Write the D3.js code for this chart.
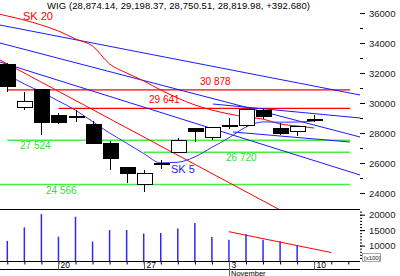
<!DOCTYPE html>
<meta charset="utf-8">
<html>
<head>
<script src="https://d3js.org/d3.v7.min.js"></script>
<style>
  body { margin: 0; background: #fff; }
  text { font-family: "Liberation Sans", Arial, sans-serif; }
</style>
</head>
<body>
<div id="chart"></div>
<script>
// ---- data ----
var days = ["15","16","17","20","21","22","23","24","27","28","29","30","31","3","4","5","6","7","10","11","12"];
var weekStarts = [3, 8, 13, 18];   // indexes of 20, 27, 3, 10
var monthLabel = {index: 13, text: "November"};

var opens  = [32600, 29667, 30867, 29200, 29050, 28600, 27267, 25667, 24600, 26000, 26733, 28267, 27667, 28450, 28533, 29467, 28267, 28133, 28874.14];
var highs  = [32650, 30733, 30933, 29333, 29533, 28800, 27467, 25700, 25533, 26200, 27667, 28267, 28400, 29000, 29600, 29600, 28667, 28427, 29198.37];
var lows   = [30733, 29533, 27867, 28600, 28733, 27267, 25533, 24667, 24067, 25600, 26733, 27400, 27533, 28267, 28400, 28933, 27867, 27800, 28750.51];
var closes = [31067, 30067, 28667, 28733, 29080, 27267, 26267, 25267, 25267, 26000, 27467, 28067, 28400, 28480, 29600, 29133, 28000, 28427, 28819.98];

var volumes = [11500, 15900, 20200, 12900, 19350, 11300, 15000, 15050, 13900, 14100, 15500, 17300, 12800, 11850, 13700, 11850, 11400, 10100];

// moving averages, index -1 .. 18
var sk20 = [36070, 35800, 35530, 35200, 34800, 34270, 33800, 32600, 32000, 31470, 30870, 30330, 29870, 29530, 29270, 29070, 28930, 28600, 28470, 28330];
var sk5  = [32600, 31900, 31267, 30733, 30133, 29520, 28760, 28000, 27320, 26630, 26010, 26050, 26410, 27040, 27680, 28400, 28740, 28720, 28730, 28800];

// support / resistance levels [value, fromIndex, toIndex, label, labelX]
var levels = [
  [30878, 0, 20.1, "30 878", 200, "red"],
  [29641, 3, 20.1, "29 641", 149, "red"],
  [27524, 0, 20.1, "27 524", 20, "green"],
  [26720, 8, 20.1, "26 720", 226, "green"],
  [24566, -0.5, 20.1, "24 566", 46, "green"]
];

// trend lines [i1, v1, i2, v2]
var blueTrends = [
  [-0.43, 35200, 20.69, 30533],
  [-0.43, 34000, 20.69, 27733],
  [-0.43, 32733, 20.69, 25200],
  [12.06, 29933, 20.69, 29000],
  [13.24, 28067, 20.1, 27400]
];
var redTrends = [
  [-0.43, 32867, 16.0, 22867]
];
var volTrend = [13, 14500, 19, 7740];

var title = "WIG (28,874.14, 29,198.37, 28,750.51, 28,819.98, +392.680)";

// ---- layout ----
var W = 400, H = 276;
var plotRight = 360;
var RED = "#ff0000", BLUE = "#1a1aff", GREEN = "#44ee44", GREENTXT = "#33dd33";

var svg = d3.select("#chart").append("svg")
  .attr("width", W).attr("height", H);

var x = d3.scaleLinear().domain([0, 20]).range([7.3, 348.3]);
var y = d3.scaleLinear().domain([24000, 36000]).range([193, 13]);
var yv = d3.scaleLinear().domain([5000, 20000]).range([261, 214.7]);

svg.append("clipPath").attr("id", "clipMain")
  .append("rect").attr("x", 0).attr("y", 0).attr("width", plotRight).attr("height", 209);

var main = svg.append("g").attr("clip-path", "url(#clipMain)");

// horizontal levels
levels.forEach(function(l) {
  main.append("line")
    .attr("x1", x(l[1])).attr("x2", x(l[2]))
    .attr("y1", y(l[0])).attr("y2", y(l[0]))
    .attr("stroke", l[5] == "red" ? RED : GREEN)
    .attr("stroke-width", l[5] == "red" ? 1.2 : 1.5);
});

// trend lines
blueTrends.forEach(function(t) {
  main.append("line")
    .attr("x1", x(t[0])).attr("y1", y(t[1]))
    .attr("x2", x(t[2])).attr("y2", y(t[3]))
    .attr("stroke", BLUE).attr("stroke-width", 1);
});
redTrends.forEach(function(t) {
  main.append("line")
    .attr("x1", x(t[0])).attr("y1", y(t[1]))
    .attr("x2", x(t[2])).attr("y2", y(t[3]))
    .attr("stroke", RED).attr("stroke-width", 1);
});

// moving averages
var maLine = d3.line()
  .x(function(d, i) { return x(i - 1); })
  .y(function(d) { return y(d); })
  .curve(d3.curveMonotoneX);

main.append("path").datum(sk20)
  .attr("d", maLine).attr("fill", "none")
  .attr("stroke", RED).attr("stroke-width", 1);
main.append("path").datum(sk5)
  .attr("d", maLine).attr("fill", "none")
  .attr("stroke", "#3030ff").attr("stroke-width", 1);

// candles
var candles = main.selectAll("g.candle")
  .data(closes.map(function(c, i) { return {i: i, o: opens[i], h: highs[i], l: lows[i], c: c}; }))
  .enter().append("g").attr("class", "candle")
  .attr("shape-rendering", "crispEdges");

candles.append("line")
  .attr("x1", function(d) { return Math.round(x(d.i)) + 0.5; })
  .attr("x2", function(d) { return Math.round(x(d.i)) + 0.5; })
  .attr("y1", function(d) { return y(d.h); })
  .attr("y2", function(d) { return y(d.l); })
  .attr("stroke", "#000");

candles.append("rect")
  .attr("x", function(d) { return Math.round(x(d.i)) - 7 + 0.5; })
  .attr("width", 15)
  .attr("y", function(d) { return y(Math.max(d.o, d.c)); })
  .attr("height", function(d) { return Math.max(1, y(Math.min(d.o, d.c)) - y(Math.max(d.o, d.c))); })
  .attr("fill", function(d) { return d.c < d.o ? "#000" : "#fff"; })
  .attr("stroke", "#000");

// level labels
levels.forEach(function(l) {
  svg.append("text")
    .attr("x", l[4]).attr("y", y(l[0]) + (l[5] == "red" ? -5 : 9))
    .attr("font-size", 10)
    .attr("fill", l[5] == "red" ? RED : GREENTXT)
    .text(l[3]);
});

svg.append("text").attr("x", 23).attr("y", 20)
  .attr("font-size", 11).attr("fill", RED).text("SK 20");
svg.append("text").attr("x", 171).attr("y", 173)
  .attr("font-size", 11).attr("fill", "#2222ee").text("SK 5");

// title
svg.append("text").attr("x", 47).attr("y", 9)
  .attr("font-size", 9.5).attr("fill", "#000")
  .attr("textLength", 263).attr("lengthAdjust", "spacing")
  .text(title);

// panel separators
svg.append("line").attr("x1", 0).attr("x2", plotRight).attr("y1", 209.5).attr("y2", 209.5)
  .attr("stroke", "#000");

// right axis (main)
var majorTicks = d3.range(24000, 36001, 2000);
var minorTicks = d3.range(25000, 36000, 2000);
svg.append("g").attr("transform", "translate(" + plotRight + ",0)")
  .call(d3.axisRight(y).tickValues(minorTicks).tickSize(3).tickFormat(""))
  .call(function(g) { g.select(".domain").remove(); });
svg.append("g").attr("transform", "translate(" + plotRight + ",0)")
  .call(d3.axisRight(y).tickValues(majorTicks).tickSize(5).tickPadding(4)
        .tickFormat(d3.format("d")))
  .call(function(g) { g.select(".domain").remove(); })
  .call(function(g) { g.selectAll("text").attr("font-size", 9.5).attr("fill", "#222")
                       .attr("font-family", "'Liberation Sans', Arial, sans-serif"); });

// volume panel
var vol = svg.append("g");
vol.selectAll("line.vol").data(volumes).enter().append("line")
  .attr("class", "vol")
  .attr("x1", function(d, i) { return x(i); })
  .attr("x2", function(d, i) { return x(i); })
  .attr("y1", yv(5000)).attr("y2", function(d) { return yv(d); })
  .attr("stroke", "#2a2aff").attr("stroke-width", 1.5);

vol.append("line")
  .attr("x1", x(volTrend[0])).attr("y1", yv(volTrend[1]))
  .attr("x2", x(volTrend[2])).attr("y2", yv(volTrend[3]))
  .attr("stroke", RED).attr("stroke-width", 1);

svg.append("g").attr("transform", "translate(" + plotRight + ",0)")
  .call(d3.axisRight(yv).tickValues(d3.range(6000, 21001, 1000)).tickSize(2).tickFormat(""))
  .call(function(g) { g.select(".domain").remove(); });
svg.append("g").attr("transform", "translate(" + plotRight + ",0)")
  .call(d3.axisRight(yv).tickValues([10000, 15000, 20000]).tickSize(5).tickPadding(4)
        .tickFormat(d3.format("d")))
  .call(function(g) { g.select(".domain").remove(); })
  .call(function(g) { g.selectAll("text").attr("font-size", 9.5).attr("fill", "#222")
                       .attr("font-family", "'Liberation Sans', Arial, sans-serif"); });

svg.append("rect").attr("x", 362.5).attr("y", 253.5).attr("width", 18).attr("height", 8)
  .attr("fill", "none").attr("stroke", "#888").attr("stroke-width", 0.7);
svg.append("text").attr("x", 364).attr("y", 260).attr("font-size", 6).attr("fill", "#222").text("[x100]");

// date axis
svg.append("line").attr("x1", 0).attr("x2", plotRight).attr("y1", 261.5).attr("y2", 261.5).attr("stroke", "#000");
svg.append("line").attr("x1", 0).attr("x2", plotRight).attr("y1", 269.5).attr("y2", 269.5).attr("stroke", "#000");

var xAxis = svg.append("g").attr("transform", "translate(0,261.5)")
  .call(d3.axisBottom(x).tickValues(d3.range(0, 21)).tickSize(3).tickFormat(""))
  .call(function(g) { g.select(".domain").remove(); });
xAxis.selectAll("line").attr("stroke", "#000");

weekStarts.forEach(function(i) {
  var px = Math.round(x(i)) + 0.5;
  svg.append("line").attr("x1", px).attr("x2", px).attr("y1", 261.5).attr("y2", 269.5)
    .attr("stroke", "#666");
  svg.append("text").attr("x", px + 2).attr("y", 268).attr("font-size", 8.5).attr("fill", "#000")
    .text(days[i]);
});
var mx = Math.round(x(monthLabel.index)) + 0.5;
svg.append("line").attr("x1", mx).attr("x2", mx).attr("y1", 269.5).attr("y2", 276).attr("stroke", "#666");
svg.append("text").attr("x", mx + 1.5).attr("y", 275.5).attr("font-size", 7.5).attr("fill", "#000")
  .text(monthLabel.text);
</script>
</body>
</html>
